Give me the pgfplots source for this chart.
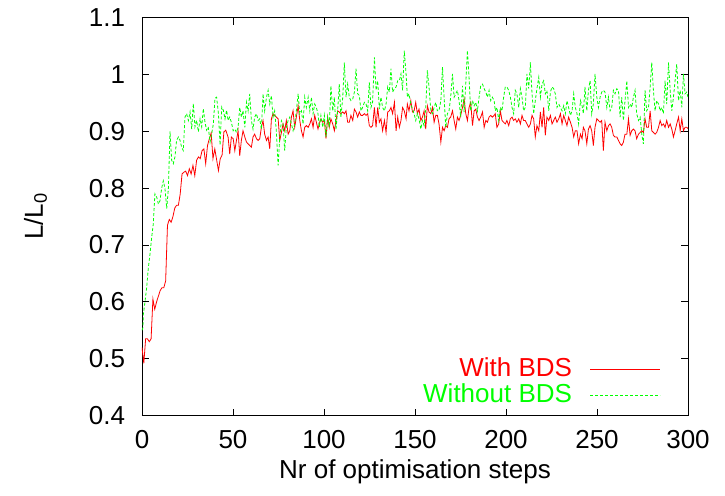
\documentclass[border=0pt]{standalone}
\usepackage{fontspec}
\setmainfont{Liberation Sans}
\usepackage{pgfplots}
\pgfplotsset{compat=1.18}
\definecolor{gpred}{RGB}{255,0,0}
\definecolor{gpgreen}{RGB}{0,255,0}
\begin{document}
\fontsize{26bp}{31bp}\selectfont
\begin{tikzpicture}
\begin{axis}[
  name=ax,
  scale only axis,
  width=546bp, height=398bp,
  xmin=0, xmax=300, ymin=0.4, ymax=1.1,
  xtick={0,50,...,300},
  ytick={0.4,0.5,0.6,0.7,0.8,0.9,1.0,1.1},
  /pgf/number format/assume math mode=true,
  tick align=inside,
  major tick length=7bp,
  axis line style={line width=0.8bp},
  tick style={line width=0.8bp, black},
  xticklabel style={yshift=-6bp},
  yticklabel style={xshift=-8bp},
  xlabel={Nr of optimisation steps},
  ylabel={L/L\textsubscript{0}},
  xlabel style={at={(axis description cs:0.5,-0.14)}, anchor=center},
  ylabel style={at={(axis description cs:-0.195,0.5)}, anchor=center},
  legend plot pos=right,
  legend cell align=right,
  legend image code/.code={\draw[#1] (0bp,0bp) -- (70bp,0bp);},
  legend style={draw=none, fill=none, at={(axis description cs:1,0)}, anchor=south east,
    xshift=-24bp, yshift=5bp, row sep=-1bp, column sep=16bp},
]
\addplot[color=gpred, line width=0.8bp] coordinates {
(0,0.520)(1,0.492)(2,0.535)(3,0.535)(4,0.530)(5,0.535)(6,0.605)(7,0.587)(8,0.600)(9,0.610)(10,0.620)(11,0.625)(12,0.625)(13,0.637)(14,0.735)(15,0.745)(16,0.740)(17,0.750)(18,0.765)(19,0.770)(20,0.770)(21,0.790)(22,0.825)(23,0.828)(24,0.830)(25,0.822)(26,0.834)(27,0.825)(28,0.840)(29,0.822)(30,0.849)(31,0.855)(32,0.852)(33,0.866)(34,0.869)(35,0.843)(36,0.875)(37,0.887)(38,0.897)(39,0.852)(40,0.869)(41,0.850)(42,0.831)(43,0.852)(44,0.858)(45,0.899)(46,0.902)
(47.3,0.890)(48.2,0.860)(49.1,0.890)(50.1,0.887)(51,0.866)(51.9,0.884)(52.8,0.901)(53.7,0.857)(54.6,0.884)(55.5,0.901)(56.5,0.890)(57.4,0.881)(58.3,0.878)(59.2,0.875)(60.1,0.872)(61,0.890)(61.9,0.895)(62.9,0.887)(63.8,0.884)(64.7,0.887)(65.6,0.907)(66.5,0.919)(67.4,0.895)(68.4,0.884)(69.3,0.890)(70.2,0.869)(71.1,0.922)(72,0.931)(72.9,0.928)(73.8,0.925)(74.8,0.922)(75.7,0.884)(76.6,0.898)(77.5,0.913)(78.4,0.901)(79.3,0.919)(80.3,0.895)(81.2,0.901)(82.1,0.925)(83,0.936)(83.9,0.907)(84.8,0.925)(85.8,0.945)(86.7,0.919)(87.6,0.901)(88.5,0.890)(89.4,0.907)(90.3,0.910)(91.3,0.907)(92.2,0.913)(93.1,0.922)(94,0.907)(94.9,0.928)(95.8,0.916)(96.7,0.904)
(97.4,0.913)(98.3,0.922)(99.3,0.916)(100.2,0.919)(101.1,0.887)(102,0.925)(102.9,0.907)(103.8,0.922)(104.8,0.913)(105.7,0.901)(106.6,0.919)(107.5,0.936)(108.4,0.934)(109.3,0.931)(110.3,0.934)(111.2,0.931)(112.1,0.936)(113,0.916)(113.9,0.916)(114.8,0.928)(115.8,0.919)(116.7,0.939)(117.6,0.934)(118.5,0.925)(119.4,0.934)(120.3,0.928)(121.2,0.928)(122.2,0.931)(123.1,0.928)(124,0.931)(124.9,0.910)(125.8,0.907)(126.7,0.910)(127.7,0.942)(128.6,0.907)(129.5,0.942)(130.4,0.916)(131.3,0.922)(132.2,0.901)(133.2,0.919)(134.1,0.898)(135,0.934)(135.9,0.936)(136.8,0.942)(137.7,0.931)(138.7,0.951)(139.6,0.901)(140.5,0.925)(141.4,0.907)(142.3,0.919)(143.2,0.942)(144.1,0.936)(145.1,0.922)
(145.8,0.948)(146.7,0.936)(147.7,0.954)(148.6,0.934)(149.5,0.936)(150.4,0.951)(151.3,0.931)(152.2,0.939)(153.2,0.919)(154.1,0.925)(155,0.936)(155.9,0.904)(156.8,0.945)(157.7,0.934)(158.7,0.931)(159.6,0.942)(160.5,0.916)(161.4,0.928)(162.3,0.928)(163.2,0.913)(164.2,0.881)(165.1,0.907)(166,0.901)(166.9,0.910)(167.8,0.907)(168.7,0.922)(169.6,0.925)(170.6,0.936)(171.5,0.919)(172.4,0.904)(173.3,0.925)(174.2,0.919)(175.1,0.928)(176.1,0.942)(177,0.957)(177.9,0.931)(178.8,0.919)(179.7,0.942)(180.6,0.951)(181.6,0.910)(182.5,0.936)(183.4,0.939)(184.3,0.925)(185.2,0.919)(186.1,0.925)(187.1,0.934)(188,0.907)(188.9,0.919)(189.8,0.916)(190.7,0.925)(191.6,0.928)(192.5,0.925)(193.5,0.928)
(194.1,0.931)(195,0.907)(196,0.913)(196.9,0.936)(197.8,0.919)(198.7,0.916)(199.6,0.913)(200.5,0.919)(201.5,0.910)(202.4,0.922)(203.3,0.925)(204.2,0.919)(205.1,0.922)(206,0.916)(207,0.922)(207.9,0.913)(208.8,0.928)(209.7,0.919)(210.6,0.919)(211.5,0.913)(212.5,0.907)(213.4,0.913)(214.3,0.928)(215.2,0.922)(216.1,0.890)(217,0.910)(218,0.901)(218.9,0.934)(219.8,0.907)(220.7,0.942)(221.6,0.893)(222.5,0.925)(223.5,0.919)(224.4,0.928)(225.3,0.913)(226.2,0.919)(227.1,0.925)(228,0.916)(229,0.922)(229.9,0.931)(230.8,0.913)(231.7,0.928)(232.6,0.919)(233.5,0.910)(234.4,0.925)(235.4,0.916)(236.3,0.907)(237.2,0.890)(238.1,0.901)(239,0.901)(239.9,0.878)(240.9,0.895)(241.8,0.887)
(242.5,0.907)(243.4,0.901)(244.4,0.878)(245.3,0.904)(246.2,0.910)(247.1,0.901)(248,0.875)(248.9,0.907)(249.9,0.922)(250.8,0.919)(251.7,0.916)(252.6,0.919)(253.5,0.866)(254.4,0.916)(255.4,0.901)(256.3,0.910)(257.2,0.913)(258.1,0.907)(259,0.893)(259.9,0.890)(260.9,0.890)(261.8,0.884)(262.7,0.878)(263.6,0.875)(264.5,0.881)(265.4,0.895)(266.4,0.895)(267.3,0.922)(268.2,0.893)(269.1,0.901)(270,0.904)(270.9,0.901)(271.8,0.887)(272.8,0.895)(273.7,0.898)(274.6,0.901)(275.5,0.898)(276.4,0.922)(277.3,0.907)(278.3,0.907)(279.2,0.936)(280.1,0.901)(281,0.898)(281.9,0.895)(282.8,0.898)(283.8,0.907)(284.7,0.919)(285.6,0.910)(286.5,0.913)(287.4,0.907)(288.3,0.919)(289.3,0.907)(290.2,0.913)(291.1,0.904)(292,0.890)(292.9,0.901)(293.8,0.913)(294.8,0.925)(295.7,0.901)(296.6,0.922)(297.5,0.901)(298.4,0.907)(299.3,0.907)(300,0.905)
};
\addlegendentry{\textcolor{gpred}{With BDS}}
\addplot[color=gpgreen, line width=0.8bp, dash pattern=on 3bp off 2bp] coordinates {
(0,0.550)(0.55,0.555)(0.73,0.578)(1.65,0.600)(2.56,0.625)(3.48,0.660)(4.4,0.684)(5.3,0.713)(6.2,0.737)(7.1,0.790)(8.1,0.784)(9,0.772)(9.9,0.778)(10.8,0.800)(11.7,0.813)(12.6,0.800)(13.6,0.764)(14.5,0.800)(15.4,0.900)(16.3,0.849)(17.2,0.843)(18.1,0.855)(19,0.884)(20,0.890)(20.9,0.884)(21.8,0.872)(22.7,0.866)(23.6,0.925)(24.5,0.931)(25.5,0.919)(26.4,0.934)(27.3,0.904)(28.2,0.949)(29.1,0.908)(30,0.919)(31,0.899)(31.9,0.922)(32.8,0.908)(33.7,0.940)(34.6,0.916)(35.5,0.902)(36.4,0.908)(37.4,0.881)(38.3,0.896)(39.2,0.913)(40.1,0.958)(41,0.960)(42,0.931)(42.9,0.876)(43.8,0.943)(44.7,0.937)(45.6,0.922)(46.5,0.937)
(47.3,0.919)(48.2,0.925)(49.1,0.916)(50.1,0.901)(51,0.904)(51.9,0.898)(52.8,0.907)(53.7,0.942)(54.6,0.925)(55.5,0.936)(56.5,0.907)(57.4,0.951)(58.3,0.936)(59.2,0.966)(60.1,0.919)(61,0.904)(61.9,0.925)(62.9,0.931)(63.8,0.919)(64.7,0.922)(65.6,0.904)(66.5,0.966)(67.4,0.936)(68.4,0.960)(69.3,0.972)(70.2,0.948)(71.1,0.963)(72,0.925)(72.9,0.936)(73.8,0.901)(74.8,0.840)(75.7,0.890)(76.6,0.919)(77.5,0.913)(78.4,0.866)(79.3,0.907)(80.3,0.919)(81.2,0.925)(82.1,0.913)(83,0.901)(83.9,0.913)(84.8,0.936)(85.8,0.966)(86.7,0.931)(87.6,0.936)(88.5,0.913)(89.4,0.960)(90.3,0.942)(91.3,0.960)(92.2,0.936)(93.1,0.960)(94,0.931)(94.9,0.948)(95.8,0.942)(96.7,0.931)
(97.4,0.907)(98.3,0.928)(99.3,0.907)(100.2,0.928)(101.1,0.890)(102,0.925)(102.9,0.907)(103.8,0.980)(104.8,0.936)(105.7,0.960)(106.6,0.904)(107.5,0.936)(108.4,0.983)(109.3,0.925)(110.3,0.960)(111.2,1.021)(112.1,0.960)(113,0.983)(113.9,0.960)(114.8,0.954)(115.8,0.957)(116.7,0.969)(117.6,1.010)(118.5,0.966)(119.4,0.963)(120.3,0.936)(121.2,0.942)(122.2,0.951)(123.1,0.948)(124,0.936)(124.9,0.986)(125.8,0.942)(126.7,0.951)(127.7,1.030)(128.6,0.972)(129.5,0.989)(130.4,0.939)(131.3,0.960)(132.2,0.942)(133.2,0.936)(134.1,0.948)(135,0.978)(135.9,0.969)(136.8,1.010)(137.7,0.969)(138.7,0.975)(139.6,0.978)(140.5,0.989)(141.4,0.989)(142.3,1.001)(143.2,0.972)(144.1,1.042)(145.1,1.001)
(145.8,0.960)(146.7,0.966)(147.7,0.948)(148.6,0.939)(149.5,0.931)(150.4,0.919)(151.3,0.931)(152.2,0.922)(153.2,0.904)(154.1,0.919)(155,0.910)(155.9,0.942)(156.8,1.007)(157.7,0.978)(158.7,0.936)(159.6,0.931)(160.5,0.942)(161.4,0.951)(162.3,0.936)(163.2,0.936)(164.2,0.954)(165.1,1.013)(166,0.960)(166.9,0.907)(167.8,0.931)(168.7,0.936)(169.6,0.960)(170.6,1.001)(171.5,0.960)(172.4,0.966)(173.3,0.972)(174.2,0.954)(175.1,0.925)(176.1,0.980)(177,0.934)(177.9,0.983)(178.8,1.042)(179.7,0.995)(180.6,0.936)(181.6,0.954)(182.5,0.945)(183.4,0.951)(184.3,0.936)(185.2,0.960)(186.1,0.980)(187.1,0.983)(188,0.975)(188.9,0.969)(189.8,0.960)(190.7,0.972)(191.6,0.954)(192.5,0.960)(193.5,0.954)
(194.1,0.936)(195,0.942)(196,0.919)(196.9,0.942)(197.8,0.936)(198.7,0.960)(199.6,0.978)(200.5,0.978)(201.5,0.972)(202.4,0.960)(203.3,0.942)(204.2,0.931)(205.1,0.972)(206,0.966)(207,0.942)(207.9,0.975)(208.8,0.960)(209.7,0.936)(210.6,0.942)(211.5,1.001)(212.5,0.975)(213.4,1.021)(214.3,0.966)(215.2,0.931)(216.1,0.954)(217,0.975)(218,0.995)(218.9,0.960)(219.8,0.983)(220.7,0.989)(221.6,0.966)(222.5,0.972)(223.5,0.936)(224.4,0.969)(225.3,0.978)(226.2,0.975)(227.1,0.966)(228,0.942)(229,0.948)(229.9,0.942)(230.8,0.936)(231.7,0.945)(232.6,0.931)(233.5,0.954)(234.4,0.942)(235.4,0.928)(236.3,0.936)(237.2,0.966)(238.1,0.942)(239,0.931)(239.9,0.913)(240.9,0.954)(241.8,0.945)
(242.5,0.931)(243.4,0.978)(244.4,0.936)(245.3,0.972)(246.2,0.989)(247.1,0.931)(248,0.948)(248.9,1.001)(249.9,0.960)(250.8,0.942)(251.7,0.960)(252.6,0.969)(253.5,0.972)(254.4,0.969)(255.4,0.942)(256.3,0.960)(257.2,0.936)(258.1,0.942)(259,0.972)(259.9,0.966)(260.9,0.975)(261.8,0.972)(262.7,0.925)(263.6,0.960)(264.5,0.919)(265.4,0.954)(266.4,0.989)(267.3,0.942)(268.2,0.948)(269.1,0.942)(270,0.960)(270.9,0.972)(271.8,0.931)(272.8,0.919)(273.7,0.925)(274.6,0.895)(275.5,0.878)(276.4,0.972)(277.3,0.936)(278.3,0.942)(279.2,0.978)(280.1,1.021)(281,0.972)(281.9,0.936)(282.8,0.954)(283.8,0.948)(284.7,0.936)(285.6,0.942)(286.5,0.931)(287.4,0.989)(288.3,0.948)(289.3,1.021)(290.2,0.972)(291.1,0.936)(292,0.960)(292.9,0.989)(293.8,1.018)(294.8,0.954)(295.7,0.972)(296.6,0.942)(297.5,1.001)(298.4,0.966)(299.3,0.969)(300,0.960)
};
\addlegendentry{\textcolor{gpgreen}{Without BDS}}
\end{axis}
\path (ax.south west) ++(-142bp,-80bp) rectangle ++(725bp,495bp);
\end{tikzpicture}
\end{document}
